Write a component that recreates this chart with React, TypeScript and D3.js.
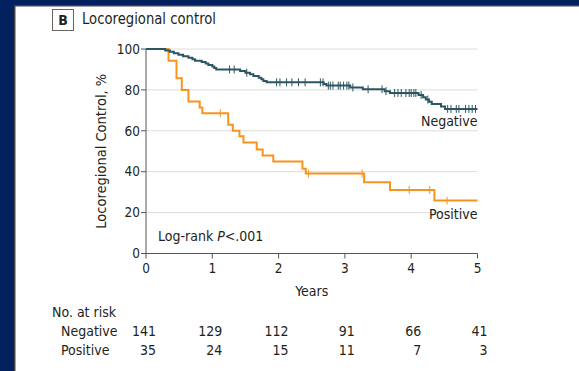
import React from "react";
import * as d3 from "d3";

const W = 579;
const H = 371;

// Kaplan–Meier steps: [years, percent]
const negativeSteps: [number, number][] = [
  [0, 100], [0.29, 99.3], [0.36, 98.6], [0.42, 97.9], [0.49, 97.2], [0.56, 96.5],
  [0.64, 95.7], [0.70, 95.0], [0.74, 94.3], [0.84, 93.6], [0.90, 92.9], [0.94, 92.2],
  [1.0, 91.5], [1.03, 90.7], [1.06, 90.0], [1.42, 89.2], [1.5, 88.4], [1.57, 87.6],
  [1.62, 86.8], [1.7, 86.0], [1.74, 85.2], [1.77, 84.4], [1.82, 83.7], [2.68, 82.9],
  [2.72, 82.1], [3.08, 81.2], [3.27, 80.3], [3.6, 79.4], [3.68, 78.5], [4.11, 77.5],
  [4.18, 76.4], [4.22, 75.3], [4.27, 74.2], [4.31, 73.1], [4.45, 71.9], [4.51, 70.7],
  [5.0, 70.7],
];
const negativeCensors: number[] = [
  1.26, 1.33, 1.52, 1.97, 2.02, 2.12, 2.2, 2.3, 2.4, 2.63, 2.67, 2.75, 2.78, 2.82, 2.9,
  2.93, 2.98, 3.03, 3.06, 3.12, 3.35, 3.56, 3.62, 3.75, 3.8, 3.85, 3.92, 3.97, 4.0, 4.04,
  4.07, 4.15, 4.25, 4.55, 4.6, 4.68, 4.72, 4.82, 4.87, 4.92, 4.97,
];
const positiveSteps: [number, number][] = [
  [0, 100], [0.34, 94.3], [0.46, 85.7], [0.54, 80.0], [0.64, 74.3], [0.81, 71.4],
  [0.85, 68.6], [1.24, 63.0], [1.31, 60.0], [1.41, 57.3], [1.47, 54.3], [1.67, 50.9],
  [1.76, 47.9], [1.92, 45.0], [2.36, 41.5], [2.41, 39.1], [3.29, 34.9], [3.68, 31.1],
  [4.35, 25.9], [5.0, 25.9],
];
const positiveCensors: number[] = [1.12, 2.45, 3.26, 3.97, 4.28, 4.54];

const xTicks = [0, 1, 2, 3, 4, 5];
const yTicks = [0, 20, 40, 60, 80, 100];
const riskNegative = [141, 129, 112, 91, 66, 41];
const riskPositive = [35, 24, 15, 11, 7, 3];

const FONT = "'Liberation Sans Narrow', 'DejaVu Sans Condensed', 'Roboto', sans-serif";
const TEXT = "#231f20";
const NAVY = "#03205f";
const TEAL = "#2b5662";
const ORANGE = "#f7941d";

export default function App() {
  const x = d3.scaleLinear().domain([0, 5]).range([146, 477.5]);
  const y = d3.scaleLinear().domain([0, 100]).range([253.5, 49]);

  const line = d3
    .line<[number, number]>()
    .x((d) => x(d[0]))
    .y((d) => y(d[1]))
    .curve(d3.curveStepAfter);

  const valueAt = (steps: [number, number][], t: number) => {
    let v = steps[0][1];
    for (const s of steps) if (s[0] <= t) v = s[1];
    return v;
  };

  return (
    <svg
      width={W}
      height={H}
      style={{ position: "absolute", left: 0, top: 0 }}
      fontFamily={FONT}
    >
      {/* frame */}
      <rect x={0} y={0} width={W} height={H} fill={NAVY} />
      <rect x={14} y={5} width={W - 14} height={H - 5} fill="#444" />
      <rect x={15.5} y={6.5} width={W - 15.5} height={H - 6.5} fill="#fff" />

      {/* panel label */}
      <rect x={52.5} y={9.5} width={21} height={21} fill="#fff" stroke="#666" strokeWidth={1} />
      <text x={63} y={25} textAnchor="middle" fontSize={14} fontWeight="bold" fill={TEXT}>
        B
      </text>
      <text x={82} y={24} fontSize={15.5} fill={TEXT} textLength={134} lengthAdjust="spacingAndGlyphs">
        Locoregional control
      </text>

      {/* grid */}
      {yTicks.filter((t) => t > 0).map((t) => (
        <line key={t} x1={x(0)} x2={x(5)} y1={y(t)} y2={y(t)} stroke="#dcdcdc" strokeWidth={1} />
      ))}

      {/* axes */}
      <line x1={x(0)} x2={x(0)} y1={y(100)} y2={y(0)} stroke="#555" strokeWidth={1} />
      <line x1={x(0)} x2={x(5)} y1={y(0)} y2={y(0)} stroke="#555" strokeWidth={1} />
      {yTicks.map((t) => (
        <g key={t}>
          <line x1={x(0) - 5} x2={x(0)} y1={y(t)} y2={y(t)} stroke="#555" />
          <text x={x(0) - 6} y={y(t)} dy="0.35em" textAnchor="end" fontSize={13.5} fill={TEXT}>
            {t}
          </text>
        </g>
      ))}
      {xTicks.map((t) => (
        <g key={t}>
          <line x1={x(t)} x2={x(t)} y1={y(0)} y2={y(0) + 5} stroke="#555" />
          <text x={x(t)} y={y(0) + 19} textAnchor="middle" fontSize={13.5} fill={TEXT}>
            {t}
          </text>
        </g>
      ))}
      <text
        transform={`translate(106,${(y(0) + y(100)) / 2}) rotate(-90)`}
        textAnchor="middle"
        fontSize={14.5}
        fill={TEXT}
      >
        Locoregional Control, %
      </text>
      <text x={(x(0) + x(5)) / 2} y={296} textAnchor="middle" fontSize={14} fill={TEXT}>
        Years
      </text>

      {/* curves */}
      <path d={line(positiveSteps) ?? ""} fill="none" stroke={ORANGE} strokeWidth={2} />
      <path d={line(negativeSteps) ?? ""} fill="none" stroke={TEAL} strokeWidth={2} />
      {positiveCensors.map((t, i) => (
        <line
          key={"pc" + i}
          x1={x(t)}
          x2={x(t)}
          y1={y(valueAt(positiveSteps, t)) - 4}
          y2={y(valueAt(positiveSteps, t)) + 4}
          stroke={ORANGE}
          strokeWidth={1}
        />
      ))}
      {negativeCensors.map((t, i) => (
        <line
          key={"nc" + i}
          x1={x(t)}
          x2={x(t)}
          y1={y(valueAt(negativeSteps, t)) - 4}
          y2={y(valueAt(negativeSteps, t)) + 4}
          stroke={TEAL}
          strokeWidth={1}
        />
      ))}

      {/* labels */}
      <text x={x(5)} y={126} textAnchor="end" fontSize={14} fill={TEXT}>
        Negative
      </text>
      <text x={x(5)} y={219} textAnchor="end" fontSize={14} fill={TEXT}>
        Positive
      </text>
      <text x={158} y={241} fontSize={14} fill={TEXT}>
        Log-rank <tspan fontStyle="italic">P</tspan>&lt;.001
      </text>

      {/* risk table */}
      <text x={52} y={317} fontSize={14} fill={TEXT}>
        No. at risk
      </text>
      <text x={61} y={336} fontSize={14} fill={TEXT}>
        Negative
      </text>
      <text x={61} y={355} fontSize={14} fill={TEXT}>
        Positive
      </text>
      {riskNegative.map((n, i) => (
        <text key={"rn" + i} x={x(xTicks[i]) + 10} y={336} textAnchor="end" fontSize={14} fill={TEXT}>
          {n}
        </text>
      ))}
      {riskPositive.map((n, i) => (
        <text key={"rp" + i} x={x(xTicks[i]) + 10} y={355} textAnchor="end" fontSize={14} fill={TEXT}>
          {n}
        </text>
      ))}
    </svg>
  );
}
